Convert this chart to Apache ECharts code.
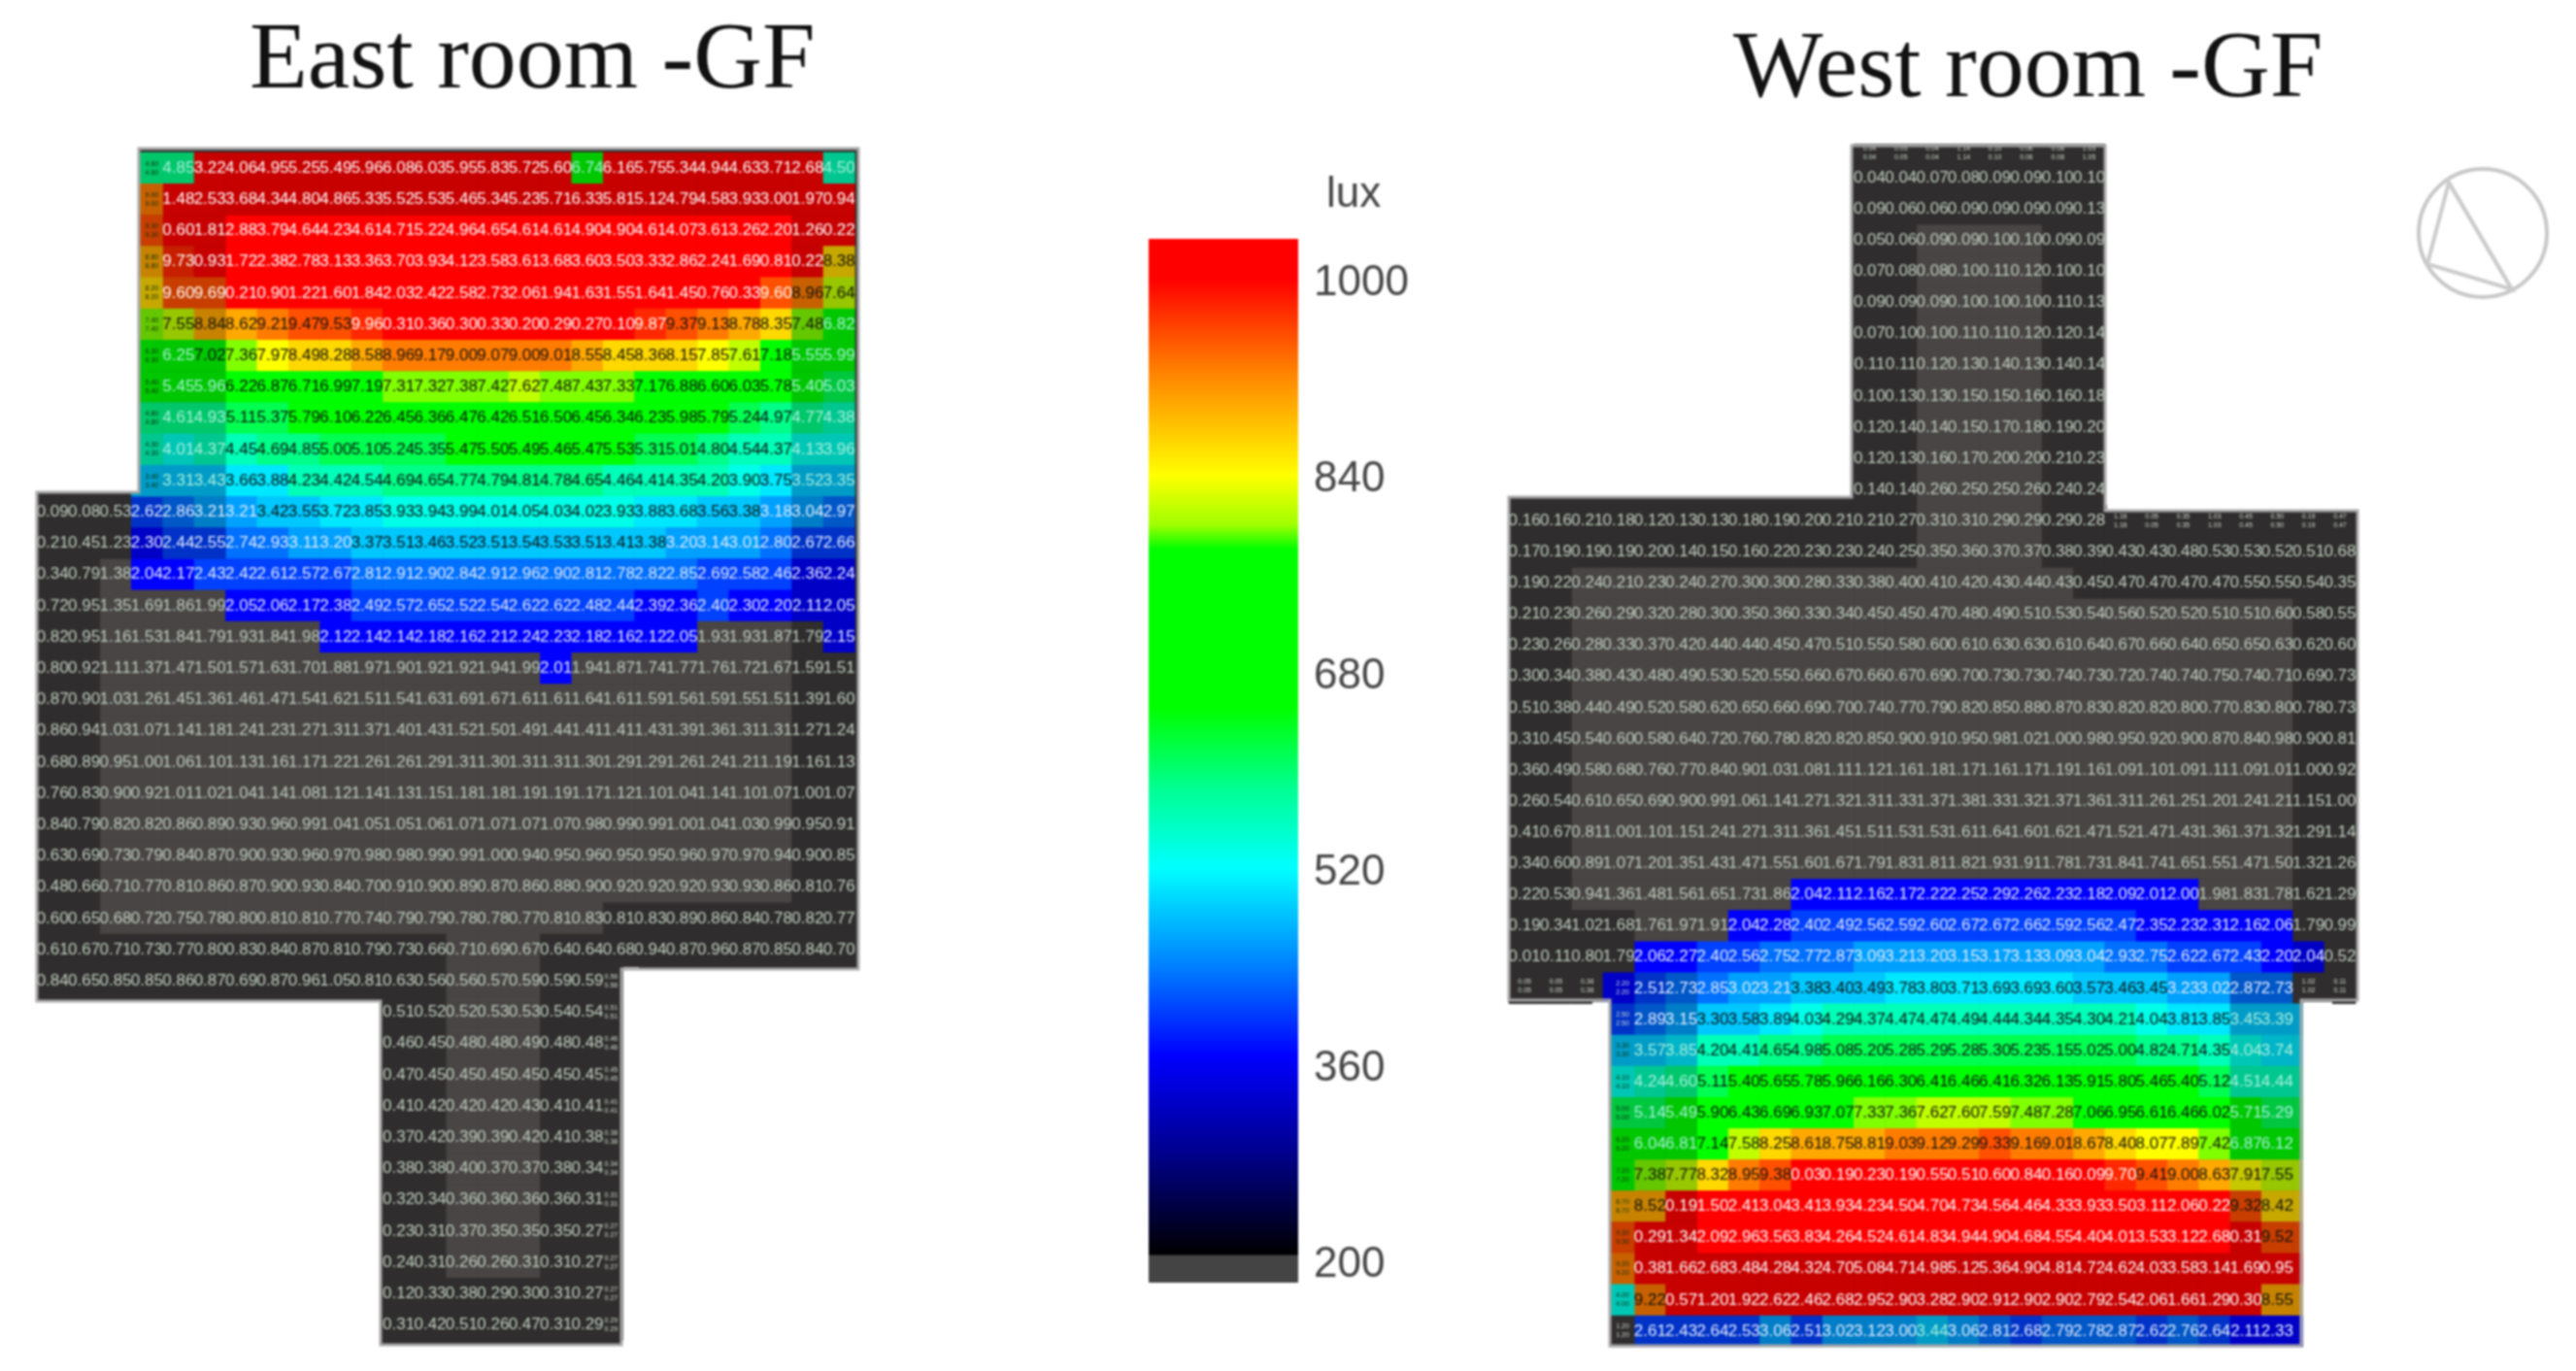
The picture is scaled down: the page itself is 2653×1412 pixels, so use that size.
<!DOCTYPE html>
<html>
<head>
<meta charset="utf-8">
<title>East room / West room -GF</title>
<script src="https://cdn.jsdelivr.net/npm/echarts@6/dist/echarts.min.js"></script>
<style>
  html, body { margin: 0; padding: 0; background: #fff; }
  #chart { width: 2653px; height: 1412px; filter: blur(1px); }
</style>
</head>
<body>
<div id="chart"></div>
<script>
// 东侧房间 每行的起始列和读数
const eastColStart = [4,4,4,4,4,4,4,4,4,4,4, 0,0,0,0,0,0,0,0,0,0,0,0,0,0,0,0, 11,11,11,11,11,11,11,11,11,11,11];
const eastValues = [
  [4.85,13.22,14.06,14.95,15.25,15.49,15.96,16.08,16.03,15.95,15.83,15.72,15.60,6.74,16.16,15.75,15.34,14.94,14.63,13.71,12.68,4.50],
  [11.48,12.53,13.68,14.34,14.80,14.86,15.33,15.52,15.53,15.46,15.34,15.23,15.71,16.33,15.81,15.12,14.79,14.58,13.93,13.00,11.97,10.94],
  [10.60,11.81,12.88,13.79,14.64,14.23,14.61,14.71,15.22,14.96,14.65,14.61,14.61,14.90,14.90,14.61,14.07,13.61,13.26,12.20,11.26,10.22],
  [9.73,10.93,11.72,12.38,12.78,13.13,13.36,13.70,13.93,14.12,13.58,13.61,13.68,13.60,13.50,13.33,12.86,12.24,11.69,10.81,10.22,8.38],
  [9.60,9.69,10.21,10.90,11.22,11.60,11.84,12.03,12.42,12.58,12.73,12.06,11.94,11.63,11.55,11.64,11.45,10.76,10.33,9.60,8.96,7.64],
  [7.55,8.84,8.62,9.21,9.47,9.53,9.96,10.31,10.36,10.30,10.33,10.20,10.29,10.27,10.10,9.87,9.37,9.13,8.78,8.35,7.48,6.82],
  [6.25,7.02,7.36,7.97,8.49,8.28,8.58,8.96,9.17,9.00,9.07,9.00,9.01,8.55,8.45,8.36,8.15,7.85,7.61,7.18,5.55,5.99],
  [5.45,5.96,6.22,6.87,6.71,6.99,7.19,7.31,7.32,7.38,7.42,7.62,7.48,7.43,7.33,7.17,6.88,6.60,6.03,5.78,5.40,5.03],
  [4.61,4.93,5.11,5.37,5.79,6.10,6.22,6.45,6.36,6.47,6.42,6.51,6.50,6.45,6.34,6.23,5.98,5.79,5.24,4.97,4.77,4.38],
  [4.01,4.37,4.45,4.69,4.85,5.00,5.10,5.24,5.35,5.47,5.50,5.49,5.46,5.47,5.53,5.31,5.01,4.80,4.54,4.37,4.13,3.96],
  [3.31,3.43,3.66,3.88,4.23,4.42,4.54,4.69,4.65,4.77,4.79,4.81,4.78,4.65,4.46,4.41,4.35,4.20,3.90,3.75,3.52,3.35],
  [0.09,0.08,0.53,2.62,2.86,3.21,3.21,3.42,3.55,3.72,3.85,3.93,3.94,3.99,4.01,4.05,4.03,4.02,3.93,3.88,3.68,3.56,3.38,3.18,3.04,2.97],
  [0.21,0.45,1.23,2.30,2.44,2.55,2.74,2.93,3.11,3.20,3.37,3.51,3.46,3.52,3.51,3.54,3.53,3.51,3.41,3.38,3.20,3.14,3.01,2.80,2.67,2.66],
  [0.34,0.79,1.38,2.04,2.17,2.43,2.42,2.61,2.57,2.67,2.81,2.91,2.90,2.84,2.91,2.96,2.90,2.81,2.78,2.82,2.85,2.69,2.58,2.46,2.36,2.24],
  [0.72,0.95,1.35,1.69,1.86,1.99,2.05,2.06,2.17,2.38,2.49,2.57,2.65,2.52,2.54,2.62,2.62,2.48,2.44,2.39,2.36,2.40,2.30,2.20,2.11,2.05],
  [0.82,0.95,1.16,1.53,1.84,1.79,1.93,1.84,1.98,2.12,2.14,2.14,2.18,2.16,2.21,2.24,2.23,2.18,2.16,2.12,2.05,1.93,1.93,1.87,1.79,2.15],
  [0.80,0.92,1.11,1.37,1.47,1.50,1.57,1.63,1.70,1.88,1.97,1.90,1.92,1.92,1.94,1.99,2.01,1.94,1.87,1.74,1.77,1.76,1.72,1.67,1.59,1.51],
  [0.87,0.90,1.03,1.26,1.45,1.36,1.46,1.47,1.54,1.62,1.51,1.54,1.63,1.69,1.67,1.61,1.61,1.64,1.61,1.59,1.56,1.59,1.55,1.51,1.39,1.60],
  [0.86,0.94,1.03,1.07,1.14,1.18,1.24,1.23,1.27,1.31,1.37,1.40,1.43,1.52,1.50,1.49,1.44,1.41,1.41,1.43,1.39,1.36,1.31,1.31,1.27,1.24],
  [0.68,0.89,0.95,1.00,1.06,1.10,1.13,1.16,1.17,1.22,1.26,1.26,1.29,1.31,1.30,1.31,1.31,1.30,1.29,1.29,1.26,1.24,1.21,1.19,1.16,1.13],
  [0.76,0.83,0.90,0.92,1.01,1.02,1.04,1.14,1.08,1.12,1.14,1.13,1.15,1.18,1.18,1.19,1.19,1.17,1.12,1.10,1.04,1.14,1.10,1.07,1.00,1.07],
  [0.84,0.79,0.82,0.82,0.86,0.89,0.93,0.96,0.99,1.04,1.05,1.05,1.06,1.07,1.07,1.07,1.07,0.98,0.99,0.99,1.00,1.04,1.03,0.99,0.95,0.91],
  [0.63,0.69,0.73,0.79,0.84,0.87,0.90,0.93,0.96,0.97,0.98,0.98,0.99,0.99,1.00,0.94,0.95,0.96,0.95,0.95,0.96,0.97,0.97,0.94,0.90,0.85],
  [0.48,0.66,0.71,0.77,0.81,0.86,0.87,0.90,0.93,0.84,0.70,0.91,0.90,0.89,0.87,0.86,0.88,0.90,0.92,0.92,0.92,0.93,0.93,0.86,0.81,0.76],
  [0.60,0.65,0.68,0.72,0.75,0.78,0.80,0.81,0.81,0.77,0.74,0.79,0.79,0.78,0.78,0.77,0.81,0.83,0.81,0.83,0.89,0.86,0.84,0.78,0.82,0.77],
  [0.61,0.67,0.71,0.73,0.77,0.80,0.83,0.84,0.87,0.81,0.79,0.73,0.66,0.71,0.69,0.67,0.64,0.64,0.68,0.94,0.87,0.96,0.87,0.85,0.84,0.70],
  [0.84,0.65,0.85,0.85,0.86,0.87,0.69,0.87,0.96,1.05,0.81,0.63,0.56,0.56,0.57,0.59,0.59,0.59],
  [0.51,0.52,0.52,0.53,0.53,0.54,0.54],
  [0.46,0.45,0.48,0.48,0.49,0.48,0.48],
  [0.47,0.45,0.45,0.45,0.45,0.45,0.45],
  [0.41,0.42,0.42,0.42,0.43,0.41,0.41],
  [0.37,0.42,0.39,0.39,0.42,0.41,0.38],
  [0.38,0.38,0.40,0.37,0.37,0.38,0.34],
  [0.32,0.34,0.36,0.36,0.36,0.36,0.31],
  [0.23,0.31,0.37,0.35,0.35,0.35,0.27],
  [0.24,0.31,0.26,0.26,0.31,0.31,0.27],
  [0.12,0.33,0.38,0.29,0.30,0.31,0.27],
  [0.31,0.42,0.51,0.26,0.47,0.31,0.29]
];
// 东侧房间 窄边上的小字读数
const eastStripLeft = [4.6,9.0,9.3,8.8,8.2,7.4,6.3,5.4,4.8,4.3,3.4];
const eastStripStem = [0.56,0.51,0.46,0.45,0.41,0.38,0.34,0.31,0.27,0.27,0.27,0.29];

// 西侧房间
const westColStart = [11,11,11,11,11,11,11,11,11,11,11, 0,0,0,0,0,0,0,0,0,0,0,0,0,0,0, 4,4,4,4,4,4,4,4,4,4,4,4];
const westValues = [
  [0.04,0.04,0.07,0.08,0.09,0.09,0.10,0.10],
  [0.09,0.06,0.06,0.09,0.09,0.09,0.09,0.13],
  [0.05,0.06,0.09,0.09,0.10,0.10,0.09,0.09],
  [0.07,0.08,0.08,0.10,0.11,0.12,0.10,0.10],
  [0.09,0.09,0.09,0.10,0.10,0.10,0.11,0.13],
  [0.07,0.10,0.10,0.11,0.11,0.12,0.12,0.14],
  [0.11,0.11,0.12,0.13,0.14,0.13,0.14,0.14],
  [0.10,0.13,0.13,0.15,0.15,0.16,0.16,0.18],
  [0.12,0.14,0.14,0.15,0.17,0.18,0.19,0.20],
  [0.12,0.13,0.16,0.17,0.20,0.20,0.21,0.23],
  [0.14,0.14,0.26,0.25,0.25,0.26,0.24,0.24],
  [0.16,0.16,0.21,0.18,0.12,0.13,0.13,0.18,0.19,0.20,0.21,0.21,0.27,0.31,0.31,0.29,0.29,0.29,0.28],
  [0.17,0.19,0.19,0.19,0.20,0.14,0.15,0.16,0.22,0.23,0.23,0.24,0.25,0.35,0.36,0.37,0.37,0.38,0.39,0.43,0.43,0.48,0.53,0.53,0.52,0.51,0.68],
  [0.19,0.22,0.24,0.21,0.23,0.24,0.27,0.30,0.30,0.28,0.33,0.38,0.40,0.41,0.42,0.43,0.44,0.43,0.45,0.47,0.47,0.47,0.47,0.55,0.55,0.54,0.35],
  [0.21,0.23,0.26,0.29,0.32,0.28,0.30,0.35,0.36,0.33,0.34,0.45,0.45,0.47,0.48,0.49,0.51,0.53,0.54,0.56,0.52,0.52,0.51,0.51,0.60,0.58,0.55],
  [0.23,0.26,0.28,0.33,0.37,0.42,0.44,0.44,0.45,0.47,0.51,0.55,0.58,0.60,0.61,0.63,0.63,0.61,0.64,0.67,0.66,0.64,0.65,0.65,0.63,0.62,0.60],
  [0.30,0.34,0.38,0.43,0.48,0.49,0.53,0.52,0.55,0.66,0.67,0.66,0.67,0.69,0.70,0.73,0.73,0.74,0.73,0.72,0.74,0.74,0.75,0.74,0.71,0.69,0.73],
  [0.51,0.38,0.44,0.49,0.52,0.58,0.62,0.65,0.66,0.69,0.70,0.74,0.77,0.79,0.82,0.85,0.88,0.87,0.83,0.82,0.82,0.80,0.77,0.83,0.80,0.78,0.73],
  [0.31,0.45,0.54,0.60,0.58,0.64,0.72,0.76,0.78,0.82,0.82,0.85,0.90,0.91,0.95,0.98,1.02,1.00,0.98,0.95,0.92,0.90,0.87,0.84,0.98,0.90,0.81],
  [0.36,0.49,0.58,0.68,0.76,0.77,0.84,0.90,1.03,1.08,1.11,1.12,1.16,1.18,1.17,1.16,1.17,1.19,1.16,1.09,1.10,1.09,1.11,1.09,1.01,1.00,0.92],
  [0.26,0.54,0.61,0.65,0.69,0.90,0.99,1.06,1.14,1.27,1.32,1.31,1.33,1.37,1.38,1.33,1.32,1.37,1.36,1.31,1.26,1.25,1.20,1.24,1.21,1.15,1.00],
  [0.41,0.67,0.81,1.00,1.10,1.15,1.24,1.27,1.31,1.36,1.45,1.51,1.53,1.53,1.61,1.64,1.60,1.62,1.47,1.52,1.47,1.43,1.36,1.37,1.32,1.29,1.14],
  [0.34,0.60,0.89,1.07,1.20,1.35,1.43,1.47,1.55,1.60,1.67,1.79,1.83,1.81,1.82,1.93,1.91,1.78,1.73,1.84,1.74,1.65,1.55,1.47,1.50,1.32,1.26],
  [0.22,0.53,0.94,1.36,1.48,1.56,1.65,1.73,1.86,2.04,2.11,2.16,2.17,2.22,2.25,2.29,2.26,2.23,2.18,2.09,2.01,2.00,1.98,1.83,1.78,1.62,1.29],
  [0.19,0.34,1.02,1.68,1.76,1.97,1.91,2.04,2.28,2.40,2.49,2.56,2.59,2.60,2.67,2.67,2.66,2.59,2.56,2.47,2.35,2.23,2.31,2.16,2.06,1.79,0.99],
  [0.01,0.11,0.80,1.79,2.06,2.27,2.40,2.56,2.75,2.77,2.87,3.09,3.21,3.20,3.15,3.17,3.13,3.09,3.04,2.93,2.75,2.62,2.67,2.43,2.20,2.04,0.52],
  [2.51,2.73,2.85,3.02,3.21,3.38,3.40,3.49,3.78,3.80,3.71,3.69,3.69,3.60,3.57,3.46,3.45,3.23,3.02,2.87,2.73],
  [2.89,3.15,3.30,3.58,3.89,4.03,4.29,4.37,4.47,4.47,4.49,4.44,4.34,4.35,4.30,4.21,4.04,3.81,3.85,3.45,3.39],
  [3.57,3.85,4.20,4.41,4.65,4.98,5.08,5.20,5.28,5.29,5.28,5.30,5.23,5.15,5.02,5.00,4.82,4.71,4.35,4.04,3.74],
  [4.24,4.60,5.11,5.40,5.65,5.78,5.96,6.16,6.30,6.41,6.46,6.41,6.32,6.13,5.91,5.80,5.46,5.40,5.12,4.51,4.44],
  [5.14,5.49,5.90,6.43,6.69,6.93,7.07,7.33,7.36,7.62,7.60,7.59,7.48,7.28,7.06,6.95,6.61,6.46,6.02,5.71,5.29],
  [6.04,6.81,7.14,7.58,8.25,8.61,8.75,8.81,9.03,9.12,9.29,9.33,9.16,9.01,8.67,8.40,8.07,7.89,7.42,6.87,6.12],
  [7.38,7.77,8.32,8.95,9.38,10.03,10.19,10.23,10.19,10.55,10.51,10.60,10.84,10.16,10.09,9.70,9.41,9.00,8.63,7.91,7.55],
  [8.52,10.19,11.50,12.41,13.04,13.41,13.93,14.23,14.50,14.70,14.73,14.56,14.46,14.33,13.93,13.50,13.11,12.06,10.22,9.32,8.42],
  [10.29,11.34,12.09,12.96,13.56,13.83,14.26,14.52,14.61,14.83,14.94,14.90,14.68,14.55,14.40,14.01,13.53,13.12,12.68,10.31,9.52],
  [10.38,11.66,12.68,13.48,14.28,14.32,14.70,15.08,14.71,14.98,15.12,15.36,14.90,14.81,14.72,14.62,14.03,13.58,13.14,11.69,10.95],
  [9.22,10.57,11.20,11.92,12.62,12.46,12.68,12.95,12.90,13.28,12.90,12.91,12.90,12.90,12.79,12.54,12.06,11.66,11.29,10.30,8.55],
  [2.61,2.43,2.64,2.53,3.06,2.51,3.02,3.12,3.00,3.44,3.06,2.81,2.68,2.79,2.78,2.87,2.62,2.76,2.64,2.11,2.33]
];
const westStripHeader = [0.04,0.05,0.04,1.14,0.10,0.06,0.08,1.05];
const westStripRow11 = [1.16,0.05,0.35,1.03,0.45,0.50,0.19,0.47];
const westStripRow26Left = [0.05,0.05,0.36];
const westStripRow26Right = [1.02,0.11];
const westStripLeft = [2.2,2.5,3.3,4.1,5.0,6.2,7.2,8.7,9.3,9.2,4.0,1.2];
const westStripRight = [3.39,3.74,4.44,5.29,6.12,7.55,8.42,9.52,10.95,8.55,2.33];

// 内圈区域 [起始行, 结束行, 起始列, 结束列]
const eastInnerZones = [[2,12,6,23],[13,23,2,23],[24,24,2,17],[25,35,13,15]];
const westInnerZones = [[2,12,13,16],[13,13,2,17],[14,23,2,24],[24,25,4,24],[26,34,6,22]];

// 单元格色阶 下限与颜色
const bandLimits = [2.0,2.4,2.7,3.0,3.3,3.6,3.9,4.2,4.6,5.0,5.4,7.25,7.5,7.8,8.1,8.5,8.9,9.3,9.7,10];
const bandColors = ['#0000ff','#0040ff','#0070ff','#00a0ff','#00c8ff','#00e8ff','#00ffe8','#00ffb8','#00ff88','#00ff50','#00ff00','#80ff00','#c0ff00','#ffff00','#ffd800','#ffa800','#ff7c00','#ff5000','#ff2800','#ff0000'];
const innerGray = '#494544';
const outerGray = '#2f2d2d';

// 色标
const barLux = [1033,1000,926,840,800,780,650,586,520,440,367,290,205,204,182];
const barColors = ['#ff0000','#ff0000','#ff8000','#ffff00','#a0ff00','#00ff00','#00ff00','#00ff90','#00ffff','#0080ff','#0000ff','#000090','#000000','#444444','#444444'];
const barTicks = [200,360,520,680,840,1000];

const indexList = (n) => Array.from({ length: n }, (_, i) => i);

function isInner(zones, col, row) {
  return zones.some((z) => row >= z[0] && row <= z[1] && col >= z[2] && col <= z[3]);
}

function textColor(v, inner) {
  if (v >= 9.6) return '#ffffff';
  if (v >= 3.3) return inner || v >= 7 ? '#101010' : '#a8f0dc';
  if (v >= 2) return '#e4ecff';
  return '#c0d0c0';
}

// 外圈的颜色压暗
function darken(hex) {
  const n = parseInt(hex.slice(1), 16);
  const scale = (c) => Math.round(c * 0.78);
  return `rgb(${scale(n >> 16)},${scale((n >> 8) & 255)},${scale(n & 255)})`;
}

// 把读数拆成内圈和外圈两组
function buildCells(values, colStart, zones, rowShift) {
  const inner = [];
  const outer = [];
  values.forEach((row, r) => {
    row.forEach((v, i) => {
      const col = colStart[r] + i;
      const isIn = isInner(zones, col, r);
      (isIn ? inner : outer).push({
        value: [col, r + rowShift, v],
        label: { color: textColor(v, isIn) },
      });
    });
  });
  return { inner, outer };
}

function stripCells(values, place, offset, noLabel) {
  return values.map((v, i) => ({
    value: [...place(i), v],
    label: { offset, show: !noLabel, color: v >= 3 && v < 9.6 ? '#103010' : '#cfdccf' },
  }));
}

function buildPieces(colors, gray) {
  const pieces = [{ lt: bandLimits[0], color: gray }];
  bandLimits.forEach((limit, i) => {
    const next = bandLimits[i + 1];
    pieces.push(next === undefined ? { gte: limit, color: colors[i] } : { gte: limit, lt: next, color: colors[i] });
  });
  return pieces;
}

const cellFormatter = (p) => p.value[2].toFixed(2).slice(-4);

function cellSeries(data, gridIndex) {
  return {
    type: 'heatmap',
    xAxisIndex: gridIndex,
    yAxisIndex: gridIndex,
    data,
    progressive: 0,
    label: { show: true, formatter: cellFormatter, fontFamily: 'Liberation Sans', fontSize: 17 },
    emphasis: { disabled: true },
  };
}

function stripSeries(data, gridIndex) {
  const s = cellSeries(data, gridIndex);
  s.label = { show: true, formatter: (p) => { const t = cellFormatter(p); return t + '\n' + t; }, fontFamily: 'Liberation Sans', fontSize: 7, lineHeight: 9 };
  return s;
}

const east = buildCells(eastValues, eastColStart, eastInnerZones, 0);
const west = buildCells(westValues, westColStart, westInnerZones, 1);

const eastStrips = [
  ...stripCells(eastStripLeft, (i) => [3, i], [5, 0]),
  ...stripCells(eastStripStem, (i) => [18, 26 + i], [-8, 0]),
];
const westStrips = [
  ...stripCells(westStripHeader, (i) => [11 + i, 0], [0, 7]),
  ...stripCells(westStripRow11, (i) => [19 + i, 12], [0, 0]),
  ...stripCells(westStripRow26Left, (i) => [i, 27], [0, -2]),
  ...stripCells(westStripRow26Right, (i) => [25 + i, 27], [0, -2]),
  ...stripCells(westStripLeft, (i) => [3, 27 + i], [4, 0]),
  ...stripCells(westStripRight, (i) => [25, 28 + i], [0, 0], true),
];

const outerColors = bandColors.map(darken);
const barStops = barLux.map((v, i) => ({ offset: (1033 - v) / 851, color: barColors[i] }));

const eastOutline = [[143,153],[884,153],[884,998],[640,998],[640,1385],[392,1385],[392,1031],[38,1031],[38,507],[143,507]];
const westOutline = [[1907,150],[2168,150],[2168,526],[2428,526],[2428,1030],[2370,1030],[2370,1386],[1658,1386],[1658,1030],[1554,1030],[1554,512],[1907,512]];
const whiteMasks = [[128,150,14,356],[642,996,16,392],[1907,130,261,18],[2170,515,262,10],[1640,1032,17,356],[2372,1032,30,356]];

const shapeGraphics = [
  ...[eastOutline, westOutline].map((points) => ({
    type: 'polygon', z: 0, shape: { points }, style: { fill: outerGray, stroke: 'none' },
  })),
  ...whiteMasks.map((m) => ({
    type: 'rect', z: 20, shape: { x: m[0], y: m[1], width: m[2], height: m[3] }, style: { fill: '#ffffff' },
  })),
  ...[eastOutline, westOutline].map((points) => ({
    type: 'polygon', z: 21, shape: { points }, style: { fill: 'none', stroke: '#a8a8a8', lineWidth: 3 },
  })),
  // 指北针
  { type: 'circle', z: 21, shape: { cx: 2557, cy: 240, r: 66 }, style: { fill: 'none', stroke: '#c8c8c8', lineWidth: 4 } },
  { type: 'polygon', z: 21, shape: { points: [[2522,188],[2500,272],[2587,298]] }, style: { fill: 'none', stroke: '#cccccc', lineWidth: 4 } },
  { type: 'line', z: 21, shape: { x1: 2522, y1: 188, x2: 2587, y2: 298 }, style: { stroke: '#cccccc', lineWidth: 4 } },
  { type: 'text', z: 21, style: { text: 'lux', x: 1366, y: 179, fill: '#444444', font: '44px "Liberation Sans"' } },
];

const myChart = echarts.init(document.getElementById('chart'));
myChart.setOption({
  animation: false,
  backgroundColor: '#ffffff',
  title: [
    { text: 'East room -GF', left: 252, top: 10, textStyle: { fontFamily: 'Liberation Serif', fontWeight: 'normal', fontSize: 98, color: '#111111' } },
    { text: 'West room -GF', left: 1780, top: 19, textStyle: { fontFamily: 'Liberation Serif', fontWeight: 'normal', fontSize: 98, color: '#111111' } },
  ],
  grid: [
    { left: 38, top: 157, width: 842.4, height: 1223.6 },
    { left: 1554, top: 135, width: 872.1, height: 1252 },
    { left: 1183, top: 246, width: 154, height: 1075 },
  ],
  xAxis: [
    { type: 'category', gridIndex: 0, show: false, data: indexList(26) },
    { type: 'category', gridIndex: 1, show: false, data: indexList(27) },
    { type: 'category', gridIndex: 2, show: false, data: ['lux'] },
  ],
  yAxis: [
    { type: 'category', gridIndex: 0, show: false, inverse: true, data: indexList(38) },
    { type: 'category', gridIndex: 1, show: false, inverse: true, data: indexList(39) },
    {
      type: 'value',
      gridIndex: 2,
      position: 'right',
      min: 182,
      max: 1033,
      splitLine: { show: false },
      axisLine: { show: false },
      axisTick: { show: false },
      axisLabel: {
        customValues: barTicks,
        formatter: (v) => '{t|' + v + '}',
        margin: 16,
        rich: { t: { padding: [9, 0, 0, 0], color: '#444444', fontFamily: 'Liberation Sans', fontSize: 44 } },
      },
    },
  ],
  visualMap: [
    { type: 'piecewise', show: false, dimension: 2, seriesIndex: [0, 3], pieces: buildPieces(bandColors, innerGray) },
    { type: 'piecewise', show: false, dimension: 2, seriesIndex: [1, 2, 4, 5], pieces: buildPieces(outerColors, outerGray) },
  ],
  graphic: shapeGraphics,
  series: [
    cellSeries(east.inner, 0),
    cellSeries(east.outer, 0),
    stripSeries(eastStrips, 0),
    cellSeries(west.inner, 1),
    cellSeries(west.outer, 1),
    stripSeries(westStrips, 1),
    {
      type: 'bar',
      xAxisIndex: 2,
      yAxisIndex: 2,
      barWidth: '100%',
      data: [1033],
      itemStyle: { color: { type: 'linear', x: 0, y: 0, x2: 0, y2: 1, colorStops: barStops } },
    },
  ],
});
</script>
</body>
</html>
